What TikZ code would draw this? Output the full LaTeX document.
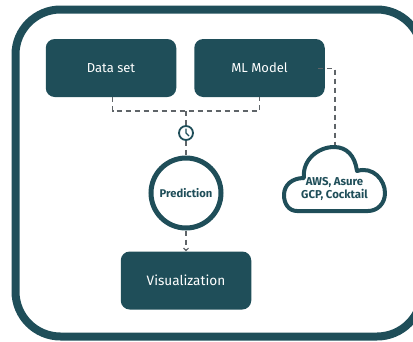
\documentclass[tikz,border=0pt]{standalone}
\usepackage{fontspec}
\setmainfont{Fira Sans}
\usetikzlibrary{arrows.meta}
\definecolor{teal}{HTML}{1F4E59}
\definecolor{link}{HTML}{5F6468}
\tikzset{
  box/.style={draw=none,fill=teal,text=white,rounded corners=9pt,minimum width=130.5pt,minimum height=58pt,inner sep=0pt,font=\fontsize{13}{15}\selectfont},
  dashlink/.style={draw=link,line width=1.1pt,dash pattern=on 5pt off 4pt},
  ring/.style={circle,draw=teal,fill=white,inner sep=0pt,text=teal}
}
\begin{document}
\begin{tikzpicture}[x=1pt,y=-1pt]
              \useasboundingbox (0,0) rectangle (413,341);
              \clip (0,0) rectangle (413,341);
              \draw [teal,line width=8pt,rounded corners=45pt] (15.5,9.5) rectangle (422,336.5);

              \begin{scope}[every node/.style={box}]
                  \node (D) at (111,68) {Data set};
                  \node (M) at (259.5,68) {ML Model};
                  \node [font=\fontsize{13.6}{15}\selectfont] (V) at (186,280.5) {Visualization};
              \end{scope}

              \node [ring,line width=5pt,minimum size=70pt,font=\fontsize{11.2}{13}\selectfont\bfseries] (P) at (186,193) {Prediction};
              \node [ring,line width=1.8pt,minimum size=14pt] (C) at (186,133) {};
              \draw [teal,line width=1.2pt] ([yshift=4.5pt]C.center) -- (C.center) -- ([shift={(3pt,-3pt)}]C.center);

              % cloud
              \draw [teal,line width=4pt,fill=white,line join=round] (297,211)
                  .. controls (289,211) and (284,204) .. (284,195)
                  .. controls (284,185) and (292,178) .. (304,178)
                  .. controls (302,160) and (318,147) .. (334,147)
                  .. controls (347,147) and (355,156) .. (357,171)
                  .. controls (373,166) and (385,180) .. (385,193)
                  .. controls (385,204) and (377,211) .. (368,211) -- cycle;
              \coordinate (T) at (335,145);
              \node [text=teal,align=center,inner sep=0pt,font=\fontsize{11.4}{13.5}\selectfont\bfseries] (K) at (334.5,189) {AWS, Asure\\GCP, Cocktail};

              \coordinate (L) at (186,111);
              \coordinate (R) at (318,68.5);
              \begin{scope}
                  \path [dashlink] ([xshift=1.5pt]D.south) -- ([xshift=1.5pt]D.south |- L) -- (M.south |- L) -- (M.south);
                  \path [dashlink] (L) -- (C);
                  \path [dashlink] (C) -- (P);
                  \path [dashlink,-{Straight Barb[length=2.5pt,width=5pt]}] (P) -- (V);
                  \path [dashlink] (R) -- (T |- R) -- (T);
              \end{scope}
\end{tikzpicture}
\end{document}
